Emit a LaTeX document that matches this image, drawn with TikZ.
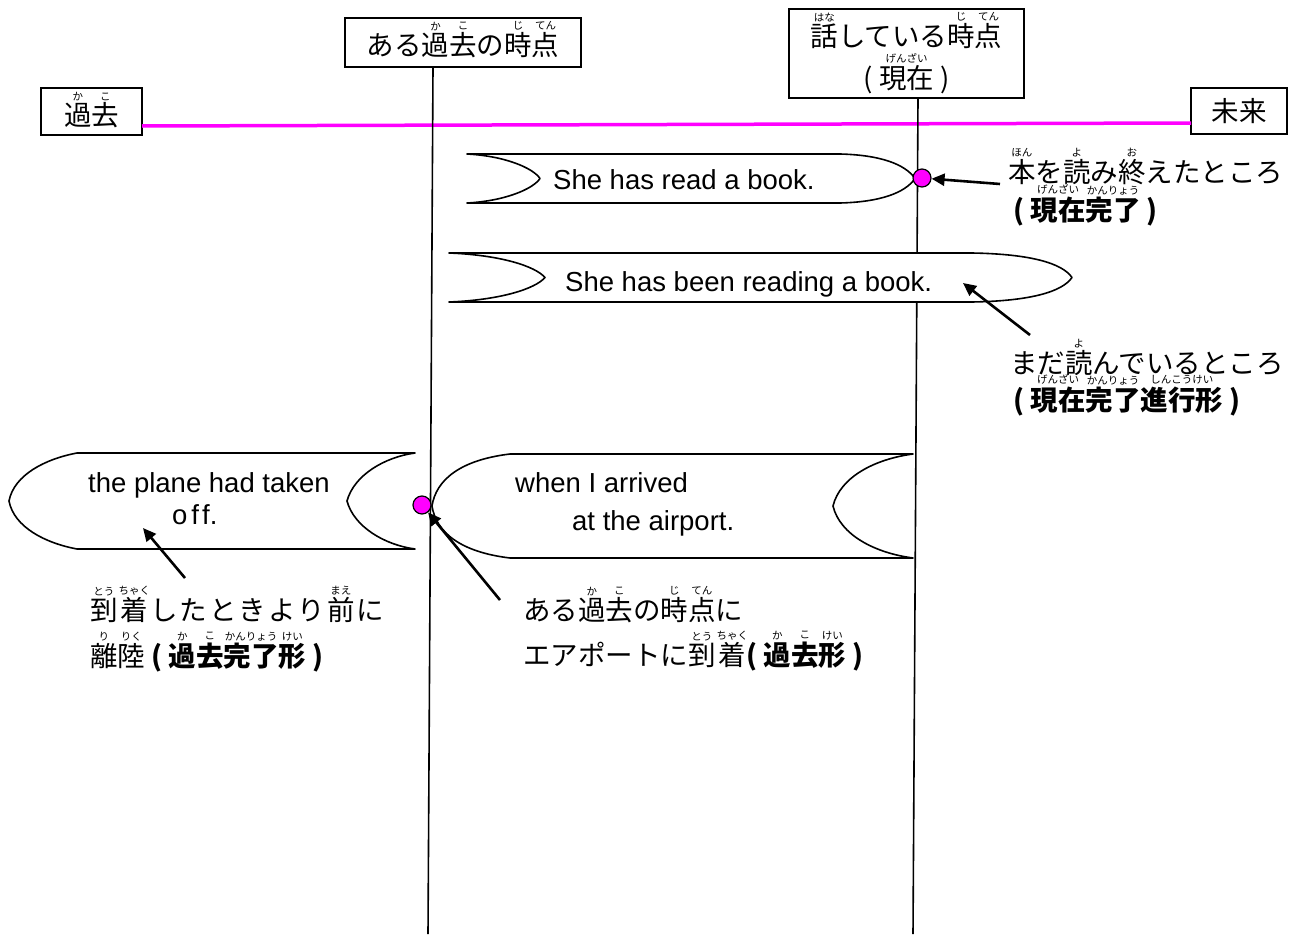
\documentclass[tikz,border=0pt]{standalone}
\usepackage{fontspec}
\usetikzlibrary{arrows.meta}
\setmainfont{Liberation Sans}
\newfontfamily\jp{Noto Sans CJK JP}
\definecolor{mag}{RGB}{255,0,255}
\newsavebox\rbbox
\newcommand\rubyfont{\jp\mdseries\fontsize{10.5}{10.5}\selectfont}
\newcommand\rb[2]{\leavevmode\sbox\rbbox{#1}\makebox[\wd\rbbox]{\raisebox{\dimexpr\ht\rbbox+2.5pt\relax}[0pt][0pt]{\rubyfont #2}}\kern-\wd\rbbox\usebox\rbbox}
\tikzset{
  lbox/.style={draw=black, line width=2.2pt, fill=white, inner sep=0pt, font=\jp\fontsize{27.5}{36}\selectfont},
  jtext/.style={inner sep=0pt, anchor=base west, font=\jp\fontsize{27.5}{36}\selectfont},
  etext/.style={inner sep=0pt, anchor=base west, font=\fontsize{27.5}{33}\selectfont},
  scrollshape/.style={draw=black, line width=1.6pt, fill=white, line join=round},
  vline/.style={draw=black, line width=1.6pt},
  dotnode/.style={circle, draw=black, line width=1.2pt, fill=mag, minimum size=18pt, inner sep=0pt},
  arr/.style={line width=2.6pt, -{Triangle[length=13pt,width=12pt]}},
}
\begin{document}
\begin{tikzpicture}[x=1pt,y=-1pt]
\useasboundingbox (0,0) rectangle (1295,934);
\fill[white] (0,0) rectangle (1295,934);
% top boxes
\node[lbox, minimum width=101pt, minimum height=47pt] (kako) at (91.5,111.5) {\rule{0pt}{31pt}\rb{過}{か}\rb{去}{こ}};
\node[lbox, minimum width=96pt, minimum height=46pt] (mirai) at (1239,111) {未来};
\node[lbox, minimum width=236pt, minimum height=49pt] (aru) at (463,42.5) {\rule{0pt}{28pt}ある\rb{過}{か}\rb{去}{こ}の\rb{時}{じ}\rb{点}{てん}};
\node[lbox, minimum width=235pt, minimum height=89pt, align=center] (hanashi) at (906.5,53.5) {\rule{0pt}{33pt}\rb{話}{はな}している\rb{時}{じ}\rb{点}{てん}\\[6pt]( \rb{現在}{げんざい} )};
% timeline
\coordinate (m1) at (142,126);
\coordinate (m2) at (1191,123);
\draw[mag, line width=3.5pt] (m1) -- (m2);
% vertical lines
\coordinate (v1a) at (433,67);
\coordinate (v1b) at (428,934);
\coordinate (v2a) at (918,98);
\coordinate (v2b) at (913,934);
\draw[vline] (v1a) -- (v1b);
\draw[vline] (v2a) -- (v2b);
% scroll 1
\draw[scrollshape] (467,154) -- (840,154) .. controls (880,155) and (905,164) .. (915,178.5) .. controls (905,193) and (880,202) .. (840,203) -- (467,203) .. controls (505,201) and (533,189) .. (540,178.5) .. controls (533,168) and (505,156) .. (467,154) -- cycle;
\node[etext] (s1) at (553,189) {She has read a book.};
% scroll 2
\draw[scrollshape] (449,253) -- (972,253) .. controls (1030,254) and (1062,263) .. (1072,277.5) .. controls (1062,292) and (1030,301) .. (972,302) -- (449,302) .. controls (500,300) and (535,289) .. (545,277.5) .. controls (535,266) and (500,255) .. (449,253) -- cycle;
\node[etext] (s2) at (565,291) {She has been reading a book.};
% scroll 3
\draw[scrollshape] (77,453) -- (415,453) .. controls (385,457) and (354,475) .. (347,501) .. controls (354,527) and (385,545) .. (415,549) -- (77,549) .. controls (45,543) and (14,527) .. (9,501) .. controls (14,475) and (45,459) .. (77,453) -- cycle;
\node[etext] (s3a) at (88,492) {the plane had taken};
\node[etext] (s3b) at (172,524) {o\kern4pt f\kern3pt f.};
% scroll 4
\draw[scrollshape] (510,454) -- (913,454) .. controls (875,459) and (840,477) .. (833,506) .. controls (840,535) and (875,553) .. (913,558) -- (510,558) .. controls (460,552) and (436,532) .. (432,506) .. controls (436,480) and (460,460) .. (510,454) -- cycle;
\node[etext] (s4a) at (515,492) {when I arrived};
\node[etext] (s4b) at (572,530) {at the airport.};
% dots
\node[dotnode] (dot1) at (922,178) {};
\node[dotnode] (dot2) at (422,505) {};
% annotations
\node[jtext] (a1a) at (1008,182) {\rb{本}{ほん}を\rb{読}{よ}み\rb{終}{お}えたところ};
\node[jtext] (a1b) at (1013,220) {\bfseries ( \rb{現在}{げんざい}\rb{完了}{かんりょう} )};
\node[jtext] (a2a) at (1010,373) {まだ\rb{読}{よ}んでいるところ};
\node[jtext] (a2b) at (1013,410) {\bfseries ( \rb{現在}{げんざい}\rb{完了}{かんりょう}\rb{進行形}{しんこうけい} )};
\node[jtext] (a3a) at (90,620) {\rb{到}{とう}\kern3pt\rb{着}{ちゃく}\kern2pt し\kern2pt た\kern2pt と\kern2pt き\kern2pt よ\kern2pt り\kern2pt\rb{前}{まえ}\kern2pt に};
\node[jtext] (a3b) at (90,666) {\rb{離}{り}\rb{陸}{りく} {\bfseries ( \rb{過}{か}\rb{去}{こ}\rb{完了}{かんりょう}\rb{形}{けい} )}};
\node[jtext] (a4a) at (523,620) {ある\rb{過}{か}\rb{去}{こ}の\rb{時}{じ}\rb{点}{てん}に};
\node[jtext] (a4b) at (523,665) {エアポートに\rb{到}{とう}\kern3pt\rb{着}{ちゃく}{\bfseries( \rb{過}{か}\rb{去}{こ}\rb{形}{けい} )}};
% arrows
\coordinate (t1) at (1000,184);
\coordinate (t2) at (1030,335);
\coordinate (h2) at (963,283);
\coordinate (t3) at (185,578);
\coordinate (h3) at (143,528);
\coordinate (t4) at (500,600);
\draw[arr] (t1) -- (dot1);
\draw[arr] (t2) -- (h2);
\draw[arr] (t3) -- (h3);
\draw[arr] (t4) -- (dot2);
\end{tikzpicture}
\end{document}
